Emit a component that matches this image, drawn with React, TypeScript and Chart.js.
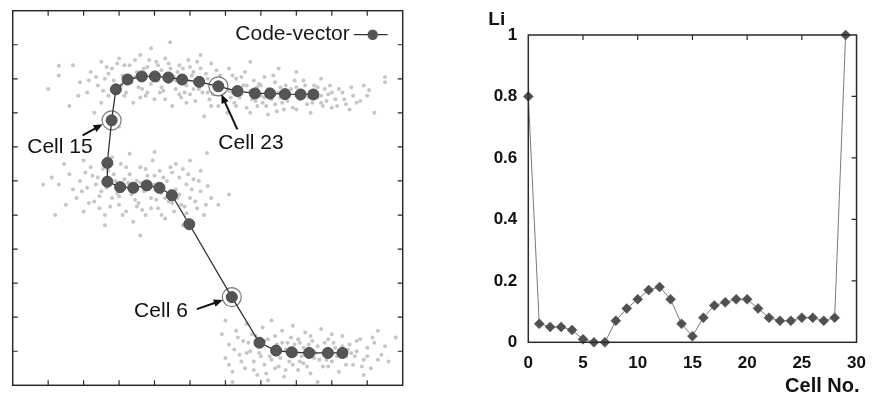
import React, { useEffect, useRef } from "react";
import { Chart, registerables } from "chart.js";
Chart.register(...registerables);

// ---------- Left panel data (axis units 0..11) ----------
const codeX = [9.30, 8.89, 8.36, 7.87, 7.43, 6.96, 6.18, 4.98, 4.49, 4.14, 3.78, 3.40, 3.03, 2.67, 2.67, 2.79, 2.91, 3.24, 3.64, 4.01, 4.39, 4.78, 5.26, 5.80, 6.34, 6.83, 7.26, 7.68, 8.12, 8.48];
const codeY = [0.95, 0.95, 0.95, 0.97, 1.02, 1.25, 2.59, 4.73, 5.58, 5.80, 5.87, 5.80, 5.82, 5.98, 6.53, 7.78, 8.69, 8.98, 9.07, 9.07, 9.04, 8.98, 8.91, 8.78, 8.64, 8.57, 8.57, 8.55, 8.54, 8.54];
const circledCells = [6, 15, 23];
const annotationLabels = [
  { cell: 15, label: "Cell 15" },
  { cell: 23, label: "Cell 23" },
  { cell: 6, label: "Cell 6" },
];
const legendLabel = "Code-vector";
const leftTicks = [1, 2, 3, 4, 5, 6, 7, 8, 9, 10];

const topCloud = [
  [1.3, 9.1], [1.6, 8.2], [1.9, 8.9], [1.7, 9.4], [2.1, 8.6], [2.2, 9.2], [2.3, 8.0], [2.4, 8.8], [2.5, 9.5], [2.6, 9.0],
  [2.7, 8.5], [2.8, 9.3], [2.9, 8.7], [3.0, 9.6], [3.1, 9.1], [3.2, 8.6], [3.3, 9.4], [3.35, 8.9], [3.4, 8.3], [3.5, 9.2],
  [3.55, 8.75], [3.6, 9.7], [3.7, 9.0], [3.75, 8.5], [3.8, 9.35], [3.9, 8.85], [3.95, 9.15], [4.0, 8.4], [4.05, 9.5], [4.1, 8.95],
  [4.2, 9.25], [4.25, 8.65], [4.3, 9.6], [4.4, 8.9], [4.45, 9.3], [4.5, 8.2], [4.55, 9.05], [4.6, 8.7], [4.7, 9.4], [4.75, 8.45],
  [4.8, 9.0], [4.9, 8.8], [4.95, 9.55], [5.0, 8.55], [5.1, 9.2], [5.15, 8.35], [5.2, 8.95], [5.3, 9.3], [5.35, 8.6], [5.4, 7.9],
  [5.5, 9.0], [5.55, 8.4], [5.6, 9.45], [5.7, 8.75], [5.8, 8.2], [5.85, 9.1], [5.9, 8.55], [6.0, 8.9], [6.05, 8.0], [6.1, 9.3],
  [6.2, 8.6], [6.25, 8.3], [6.3, 9.0], [6.4, 8.45], [6.5, 8.8], [6.55, 9.2], [6.6, 8.15], [6.7, 8.65], [6.8, 8.95], [6.85, 8.35],
  [6.9, 8.75], [7.0, 8.5], [7.1, 9.05], [7.15, 8.2], [7.2, 8.7], [7.3, 8.4], [7.4, 8.9], [7.45, 8.05], [7.5, 8.6], [7.6, 8.3],
  [7.7, 8.8], [7.8, 8.5], [7.9, 8.15], [8.0, 8.75], [8.1, 8.4], [8.2, 8.95], [8.3, 8.25], [8.4, 8.6], [8.5, 8.8], [8.6, 8.45],
  [8.7, 8.3], [8.8, 8.7], [8.9, 8.55], [9.1, 8.4], [9.3, 8.6], [9.5, 8.1], [9.8, 8.35], [10.0, 8.5], [10.2, 8.0], [10.5, 8.9],
  [1.0, 8.7], [3.0, 7.6], [4.44, 10.07], [3.9, 9.9], [2.5, 8.3], [6.7, 9.5], [5.3, 9.7], [8.0, 9.2], [7.5, 9.3], [8.7, 9.0],
  [2.7, 9.15], [2.85, 8.95], [3.05, 8.8], [3.15, 9.4], [3.45, 9.05], [3.65, 8.7], [3.85, 9.55], [4.15, 8.6], [4.35, 9.1], [4.65, 9.2],
  [4.85, 8.6], [5.05, 9.1], [5.25, 8.7], [5.45, 9.15], [5.65, 8.55], [5.95, 8.75], [6.15, 8.45], [6.35, 8.7], [6.45, 9.05], [6.75, 8.4],
  [6.95, 8.85], [7.05, 8.3], [7.25, 8.55], [7.35, 9.1], [7.55, 8.45], [7.75, 8.65], [7.95, 8.95], [8.15, 8.55], [8.35, 8.45], [8.55, 8.6],
  [8.75, 8.2], [8.95, 8.8], [9.2, 8.7], [9.4, 8.25], [9.6, 8.5], [9.0, 8.15], [10.5, 9.05], [10.05, 8.67], [1.3, 9.38], [9.9, 8.8],
  [2.35, 9.05], [2.55, 8.65], [2.65, 9.35], [2.95, 9.45], [3.15, 8.5], [3.25, 9.0], [3.45, 9.55], [3.6, 8.45], [3.7, 9.3], [3.8, 8.6],
  [4.0, 9.0], [4.1, 9.4], [4.2, 8.75], [4.3, 8.4], [4.4, 9.45], [4.6, 8.95], [4.7, 8.55], [4.8, 9.3], [4.9, 8.3], [5.0, 9.35],
  [5.1, 8.7], [5.2, 9.5], [5.35, 9.0], [5.5, 8.6], [5.6, 8.2], [5.75, 9.25], [5.9, 8.9], [6.0, 8.35], [6.1, 8.65], [6.2, 9.1],
  [6.3, 8.2], [6.45, 8.55], [6.6, 8.8], [6.7, 8.0], [6.8, 8.6], [6.9, 8.2], [7.0, 8.8], [7.1, 8.45], [7.2, 7.95], [7.3, 8.65],
  [7.4, 8.25], [7.55, 8.75], [7.65, 8.1], [7.75, 8.35], [7.85, 8.7], [8.0, 8.1], [8.1, 8.65], [8.25, 8.8], [8.4, 8.0], [8.45, 8.3],
  [8.6, 8.75], [8.7, 8.5], [8.85, 8.35], [9.0, 8.6], [9.15, 8.2], [9.35, 8.4], [9.55, 8.75], [9.7, 8.3], [2.15, 8.95], [1.85, 8.5],
];
const middleCloud = [
  [0.86, 5.9], [1.3, 5.9], [1.5, 5.3], [1.6, 6.2], [1.8, 5.5], [1.9, 6.0], [2.0, 5.1], [2.1, 5.8], [2.2, 6.4], [2.3, 5.4],
  [2.4, 6.1], [2.5, 5.7], [2.6, 5.0], [2.7, 6.3], [2.8, 5.5], [2.9, 6.0], [3.0, 5.3], [3.05, 6.5], [3.1, 5.8], [3.2, 5.1],
  [3.3, 6.2], [3.35, 5.6], [3.4, 4.8], [3.5, 6.0], [3.55, 5.35], [3.6, 6.4], [3.7, 5.7], [3.75, 5.0], [3.8, 6.15], [3.9, 5.5],
  [3.95, 6.6], [4.0, 5.9], [4.1, 5.2], [4.15, 6.3], [4.2, 5.65], [4.3, 4.9], [4.35, 6.0], [4.4, 5.4], [4.5, 6.25], [4.55, 5.1],
  [4.6, 5.75], [4.7, 6.1], [4.75, 5.3], [4.8, 4.7], [4.9, 5.9], [5.0, 5.5], [5.1, 6.05], [5.2, 5.2], [5.3, 5.7], [5.4, 5.0],
  [5.6, 5.5], [5.8, 5.3], [6.1, 5.6], [2.0, 6.6], [3.3, 6.8], [4.0, 6.85], [5.0, 6.6], [2.6, 4.7], [3.6, 4.4], [1.2, 5.0],
  [2.8, 6.7], [4.6, 6.5], [5.3, 6.3], [5.48, 6.82], [2.45, 5.55], [2.95, 5.65], [3.25, 5.95], [3.45, 5.45], [3.85, 5.85], [4.05, 5.45],
  [4.25, 6.1], [4.45, 5.7], [4.65, 5.5], [4.85, 5.25], [2.35, 5.9], [3.15, 6.05], [3.65, 5.15], [4.95, 6.2], [1.7, 5.75], [2.75, 5.25],
  [1.95, 5.7], [2.15, 5.35], [2.25, 6.15], [2.45, 5.2], [2.55, 6.35], [2.65, 5.8], [2.85, 6.2], [3.0, 5.55], [3.1, 5.0], [3.2, 6.4],
  [3.4, 5.75], [3.5, 5.25], [3.6, 5.95], [3.75, 6.35], [3.9, 5.2], [4.0, 6.15], [4.1, 5.7], [4.2, 5.0], [4.3, 5.5], [4.45, 6.4],
  [4.5, 5.35], [4.7, 5.6], [4.8, 6.35], [4.9, 5.05], [5.05, 5.75], [5.15, 5.4], [5.25, 6.0], [5.45, 5.3], [5.5, 5.85], [2.05, 6.25],
  [1.45, 6.5], [1.1, 6.1],
];
const bottomCloud = [
  [5.9, 1.5], [6.0, 0.8], [6.1, 1.2], [6.2, 0.4], [6.3, 1.6], [6.4, 0.9], [6.5, 1.3], [6.55, 0.5], [6.6, 1.8], [6.7, 1.0],
  [6.8, 0.7], [6.85, 1.45], [6.9, 0.3], [7.0, 1.15], [7.05, 1.7], [7.1, 0.6], [7.2, 1.35], [7.25, 0.85], [7.3, 1.9], [7.4, 0.5],
  [7.45, 1.2], [7.5, 0.95], [7.6, 1.6], [7.65, 0.25], [7.7, 1.05], [7.8, 0.7], [7.85, 1.4], [7.9, 1.75], [8.0, 0.9], [8.05, 0.45],
  [8.1, 1.25], [8.2, 0.65], [8.25, 1.55], [8.3, 1.0], [8.4, 0.35], [8.45, 1.3], [8.5, 0.8], [8.6, 1.15], [8.7, 1.65], [8.75, 0.55],
  [8.8, 1.0], [8.9, 1.35], [9.0, 0.7], [9.1, 1.1], [9.2, 0.4], [9.3, 1.45], [9.4, 0.85], [9.5, 1.2], [9.6, 0.6], [9.7, 1.0],
  [9.8, 1.35], [9.9, 0.75], [10.0, 1.1], [10.1, 0.5], [10.2, 1.25], [10.4, 0.9], [10.6, 0.7], [10.8, 1.4], [6.2, 0.1], [7.2, 0.15],
  [8.6, 0.1], [9.9, 0.3], [10.3, 1.6], [6.0, 1.9], [7.35, 1.1], [7.55, 0.8], [7.95, 1.2], [8.15, 0.85], [8.35, 1.2], [8.55, 0.95],
  [8.85, 0.75], [9.05, 1.25], [9.25, 0.95], [9.45, 1.05], [6.65, 1.25], [6.95, 0.95], [7.75, 1.25], [8.95, 0.9], [9.65, 0.85], [10.5, 1.15],
  [6.1, 0.6], [6.25, 1.05], [6.35, 1.4], [6.45, 0.7], [6.6, 0.95], [6.75, 1.5], [6.8, 0.45], [7.0, 0.85], [7.1, 1.3], [7.15, 0.35],
  [7.3, 0.75], [7.4, 1.45], [7.5, 0.55], [7.6, 1.25], [7.7, 0.45], [7.8, 1.0], [7.9, 0.6], [8.05, 1.35], [8.1, 0.7], [8.2, 1.1],
  [8.3, 0.55], [8.4, 1.45], [8.5, 1.0], [8.65, 0.75], [8.8, 1.25], [8.9, 0.55], [9.0, 1.5], [9.15, 0.85], [9.3, 1.15], [9.4, 0.6],
  [9.55, 0.95], [9.7, 1.3], [9.85, 0.55], [10.0, 0.85], [10.15, 1.4], [10.3, 0.75],
];

// ---------- Right panel data ----------
const cellNo = [0, 1, 2, 3, 4, 5, 6, 7, 8, 9, 10, 11, 12, 13, 14, 15, 16, 17, 18, 19, 20, 21, 22, 23, 24, 25, 26, 27, 28, 29];
const liValues = [0.8, 0.06, 0.05, 0.05, 0.04, 0.01, 0, 0, 0.07, 0.11, 0.14, 0.17, 0.18, 0.14, 0.06, 0.02, 0.08, 0.12, 0.13, 0.14, 0.14, 0.11, 0.08, 0.07, 0.07, 0.08, 0.08, 0.07, 0.08, 1.0];
const rightXTicks = [5, 10, 15, 20, 25];
const rightYTicks = [0.2, 0.4, 0.6, 0.8];
const yAxisLabel = "Li";
const xAxisLabel = "Cell No.";

const SANS = '"Liberation Sans", Arial, Helvetica, sans-serif';

// annotation layout (pixel offsets from the annotated code-vector)
const annLayout: Record<number, { tip: number[]; tail: number[]; text: number[]; align: CanvasTextAlign }> = {
  15: { tip: [-9, 4], tail: [-29, 15], text: [-19, 27], align: "right" },
  23: { tip: [3, 8], tail: [19, 43], text: [0, 57], align: "left" },
  6: { tip: [-9, 3], tail: [-35, 12], text: [-44, 14], align: "right" },
};

function drawArrow(ctx: CanvasRenderingContext2D, x1: number, y1: number, x2: number, y2: number) {
  const ang = Math.atan2(y2 - y1, x2 - x1);
  const L = 9, W = 3.8;
  ctx.beginPath();
  ctx.moveTo(x1, y1);
  ctx.lineTo(x2 - Math.cos(ang) * L * 0.8, y2 - Math.sin(ang) * L * 0.8);
  ctx.stroke();
  ctx.beginPath();
  ctx.moveTo(x2, y2);
  ctx.lineTo(x2 - Math.cos(ang) * L + Math.sin(ang) * W, y2 - Math.sin(ang) * L - Math.cos(ang) * W);
  ctx.lineTo(x2 - Math.cos(ang) * L - Math.sin(ang) * W, y2 - Math.sin(ang) * L + Math.cos(ang) * W);
  ctx.closePath();
  ctx.fill();
}

const leftDecor = {
  id: "leftDecor",
  afterDraw(chart: any) {
    const { ctx, chartArea: a, scales } = chart;
    const xs = scales.x, ys = scales.y;
    ctx.save();
    ctx.strokeStyle = "#2a2a2a";
    ctx.lineWidth = 1.5;
    ctx.strokeRect(a.left, a.top, a.right - a.left, a.bottom - a.top);
    ctx.lineWidth = 1.2;
    ctx.beginPath();
    for (const t of leftTicks) {
      const px = xs.getPixelForValue(t);
      const py = ys.getPixelForValue(t);
      ctx.moveTo(px, a.top); ctx.lineTo(px, a.top + 5);
      ctx.moveTo(px, a.bottom); ctx.lineTo(px, a.bottom - 5);
      ctx.moveTo(a.left, py); ctx.lineTo(a.left + 5, py);
      ctx.moveTo(a.right, py); ctx.lineTo(a.right - 5, py);
    }
    ctx.stroke();

    // legend
    ctx.font = `21px ${SANS}`;
    ctx.fillStyle = "#1a1a1a";
    ctx.textAlign = "right";
    ctx.textBaseline = "middle";
    const ly = a.top + 24;
    const lx = a.right - 53;
    ctx.fillText(legendLabel, lx, ly);
    ctx.strokeStyle = "#333";
    ctx.lineWidth = 1.3;
    ctx.beginPath();
    ctx.moveTo(lx + 4, ly); ctx.lineTo(lx + 38, ly);
    ctx.stroke();
    ctx.fillStyle = "#555";
    ctx.beginPath();
    ctx.arc(lx + 23, ly, 5.2, 0, Math.PI * 2);
    ctx.fill();

    // annotations
    ctx.fillStyle = "#111";
    ctx.strokeStyle = "#111";
    ctx.lineWidth = 2;
    for (const an of annotationLabels) {
      const lay = annLayout[an.cell];
      const px = xs.getPixelForValue(codeX[an.cell]);
      const py = ys.getPixelForValue(codeY[an.cell]);
      drawArrow(ctx, px + lay.tail[0], py + lay.tail[1], px + lay.tip[0], py + lay.tip[1]);
      ctx.font = `21px ${SANS}`;
      ctx.textAlign = lay.align;
      ctx.textBaseline = "middle";
      ctx.fillText(an.label, px + lay.text[0], py + lay.text[1]);
    }
    ctx.restore();
  },
};

const rightDecor = {
  id: "rightDecor",
  afterDraw(chart: any) {
    const { ctx, chartArea: a, scales } = chart;
    const xs = scales.x, ys = scales.y;
    ctx.save();
    ctx.strokeStyle = "#2a2a2a";
    ctx.lineWidth = 1.5;
    ctx.strokeRect(a.left, a.top, a.right - a.left, a.bottom - a.top);
    ctx.lineWidth = 1.2;
    ctx.beginPath();
    for (const t of rightXTicks) {
      const px = xs.getPixelForValue(t);
      ctx.moveTo(px, a.top); ctx.lineTo(px, a.top + 5);
    }
    for (const t of rightYTicks) {
      const py = ys.getPixelForValue(t);
      ctx.moveTo(a.right, py); ctx.lineTo(a.right - 5, py);
    }
    ctx.stroke();
    ctx.fillStyle = "#111";
    ctx.font = `bold 19px ${SANS}`;
    ctx.textAlign = "left";
    ctx.textBaseline = "middle";
    ctx.fillText(yAxisLabel, a.left - 40, a.top - 15);
    ctx.font = `bold 20px ${SANS}`;
    ctx.textAlign = "right";
    ctx.fillText(xAxisLabel, a.right + 3, a.bottom + 44);
    ctx.restore();
  },
};

const fmtTick = (v: any) => `${Number(Number(v).toFixed(1))}`;

function LeftPanel() {
  const ref = useRef<HTMLCanvasElement>(null);
  useEffect(() => {
    const pts = (arr: number[][]) => arr.map(([x, y]) => ({ x, y }));
    const code = codeX.map((x, i) => ({ x, y: codeY[i] }));
    const rings = circledCells.map((i) => ({ x: codeX[i], y: codeY[i] }));
    const cloudStyle = { pointRadius: 2, pointBackgroundColor: "#c6c6c6", pointBorderWidth: 0 };
    const chart = new Chart(ref.current!, {
      type: "scatter",
      data: {
        datasets: [
          {
            label: legendLabel,
            data: code,
            showLine: true,
            borderColor: "#333",
            borderWidth: 1.3,
            pointRadius: 5.5,
            pointBackgroundColor: "#555",
            pointBorderColor: "#4a4a4a",
            pointBorderWidth: 1,
          },
          {
            label: "circled",
            data: rings,
            pointRadius: 9.5,
            pointBackgroundColor: "#ffffff",
            pointBorderColor: "#777",
            pointBorderWidth: 1.2,
          },
          { label: "top", data: pts(topCloud), ...cloudStyle },
          { label: "mid", data: pts(middleCloud), ...cloudStyle },
          { label: "bot", data: pts(bottomCloud), ...cloudStyle },
        ],
      },
      options: {
        animation: false,
        responsive: false,
        layout: { padding: { left: 12.7, top: 8.3, right: 17.3, bottom: 2 } },
        plugins: { legend: { display: false }, tooltip: { enabled: false } },
        scales: {
          x: { type: "linear", min: 0, max: 11, display: false },
          y: { type: "linear", min: 0, max: 11, display: false },
        },
      },
      plugins: [leftDecor],
    });
    return () => chart.destroy();
  }, []);
  return <canvas ref={ref} width={420} height={396} style={{ position: "absolute", left: 0, top: 0 }} />;
}

function RightPanel() {
  const ref = useRef<HTMLCanvasElement>(null);
  useEffect(() => {
    const chart = new Chart(ref.current!, {
      type: "scatter",
      data: {
        datasets: [
          {
            label: "Li",
            data: cellNo.map((c, i) => ({ x: c, y: liValues[i] })),
            showLine: true,
            borderColor: "#7a7a7a",
            borderWidth: 1,
            pointStyle: "rectRot",
            pointRadius: 5,
            pointBackgroundColor: "#505050",
            pointBorderColor: "#505050",
            pointBorderWidth: 0.5,
            clip: false,
          } as any,
        ],
      },
      options: {
        animation: false,
        responsive: false,
        layout: { padding: { left: 0, top: 35, right: 10.3, bottom: 0 } },
        plugins: { legend: { display: false }, tooltip: { enabled: false } },
        scales: {
          x: {
            type: "linear",
            min: 0,
            max: 30,
            grid: { display: false, drawTicks: false },
            border: { display: false },
            ticks: { stepSize: 5, padding: 11, color: "#111", font: { family: SANS, size: 17, weight: "bold" }, callback: fmtTick },
            afterFit: (s: any) => { s.height = 53.7; },
          },
          y: {
            type: "linear",
            min: 0,
            max: 1,
            grid: { display: false, drawTicks: false },
            border: { display: false },
            ticks: { stepSize: 0.2, padding: 11, color: "#111", font: { family: SANS, size: 17, weight: "bold" }, callback: fmtTick },
            afterFit: (s: any) => { s.width = 88.3; },
          },
        },
      },
      plugins: [rightDecor],
    });
    return () => chart.destroy();
  }, []);
  return <canvas ref={ref} width={437} height={396} style={{ position: "absolute", left: 440, top: 0 }} />;
}

export default function App() {
  return (
    <div style={{ position: "fixed", left: 0, top: 0, width: 877, height: 396, background: "#fff", overflow: "hidden" }}>
      <LeftPanel />
      <RightPanel />
    </div>
  );
}
